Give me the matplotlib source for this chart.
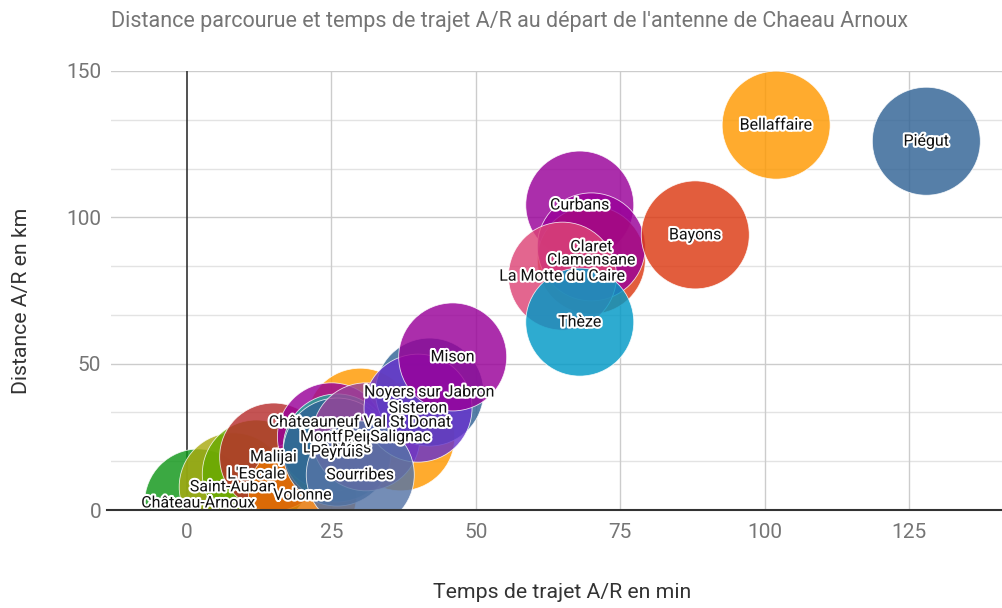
import matplotlib
matplotlib.use("Agg")
import matplotlib.pyplot as plt
import matplotlib.patheffects as pe
import numpy as np

plt.rcParams['font.family'] = ['Roboto', 'DejaVu Sans']

# Data (drawing order)
names = ["Château-Arnoux", "Saint-Auban", "L'Escale", "Malijai", "Volonne",
         "Châteauneuf Val St Donat", "Salignac", "Montfort", "Les Mées", "Peyruis",
         "Peipin", "Noyers sur Jabron", "Sisteron", "Sourribes", "Mison",
         "Curbans", "Clamensane", "Claret", "La Motte du Caire", "Thèze",
         "Bayons", "Bellaffaire", "Piégut"]
temps = [2, 8, 12, 15, 20,
         30, 37, 25, 26, 26,
         31, 42, 40, 30, 46,
         68, 70, 70, 65, 68,
         88, 102, 128]
distance = [2.4, 7.9, 12.3, 18.1, 5.1,
            30, 25, 25, 21.2, 19.8,
            25, 40.3, 34.8, 12, 52.3,
            104.2, 85.4, 89.9, 79.9, 64.2,
            94, 131.5, 126]
colors = ["#109618", "#aaaa11", "#66aa00", "#b82e2e", "#e67300",
          "#ff9900", "#ff9900", "#990099", "#22aa99", "#316395",
          "#994499", "#316395", "#6633cc", "#5574a6", "#990099",
          "#990099", "#dc3912", "#990099", "#dd4477", "#0099c6",
          "#dc3912", "#ff9900", "#316395"]

x_ticks = [0, 25, 50, 75, 100, 125]
y_ticks = [0, 50, 100, 150]

W, H = 1003, 608
fig = plt.figure(figsize=(W / 100, H / 100), dpi=100)
L, R, T, B = 111, 1003, 71, 510
ax = fig.add_axes([L / W, 1 - B / H, (R - L) / W, (B - T) / H])

px_per_x = (909 - 187) / 125.0
xmin = -(187 - L) / px_per_x
xmax = xmin + (R - L) / px_per_x
ax.set_xlim(xmin, xmax)
ax.set_ylim(0, 150)

# grid
for yv in np.arange(0, 150.01, 50 / 3):
    if abs(yv) < 1e-6:
        continue
    major = abs(yv / 50 - round(yv / 50)) < 1e-6
    ax.axhline(yv, color="#cccccc" if major else "#e3e3e3", lw=1, zorder=0)
for xv in x_ticks:
    if xv == 0:
        continue
    ax.axvline(xv, color="#cccccc", lw=1, zorder=0)
ax.axvline(0, color="#333333", lw=1.2, zorder=0.5)

# bubbles
r_px = 54
s = (2 * r_px * 72 / 100) ** 2
ax.scatter(temps, distance, s=s, c=colors, alpha=0.82, linewidths=0.6,
           edgecolors="white", zorder=2)

# labels (drawn after all bubbles)
label_order = ["Château-Arnoux", "Saint-Auban", "L'Escale", "Malijai", "Volonne",
               "Les Mées", "Peyruis", "Montfort", "Peipin", "Salignac",
               "Châteauneuf Val St Donat", "Sourribes", "Sisteron",
               "Noyers sur Jabron", "Mison", "Curbans", "La Motte du Caire",
               "Clamensane", "Claret", "Thèze", "Bayons", "Bellaffaire", "Piégut"]
for n in label_order:
    i = names.index(n)
    ax.text(temps[i], distance[i], n, ha="center", va="center", fontsize=11.5,
            color="#111111", zorder=5, clip_on=False,
            path_effects=[pe.withStroke(linewidth=3, foreground="white")])

# baseline
ax.plot([-0.005, 1], [0, 0], transform=ax.transAxes, color="#333333", lw=1.5,
        zorder=6, clip_on=False)

for sp in ax.spines.values():
    sp.set_visible(False)
ax.set_xticks(x_ticks)
ax.set_yticks(y_ticks)
ax.tick_params(length=0, labelsize=15, labelcolor="#757575", pad=9)
ax.tick_params(axis="y", pad=7)

fig.text(510 / W, 1 - 22 / H,
         "Distance parcourue et temps de trajet A/R au départ de l'antenne de Chaeau Arnoux",
         ha="center", va="center", fontsize=15.5, color="#757575")
fig.text(562 / W, 1 - 593 / H, "Temps de trajet A/R en min", ha="center",
         va="center", fontsize=15.3, color="#333333")
fig.text(22 / W, 1 - 301 / H, "Distance A/R en km", ha="center", va="center",
         rotation=90, fontsize=15.3, color="#333333")

fig.savefig("out.png", dpi=100)
